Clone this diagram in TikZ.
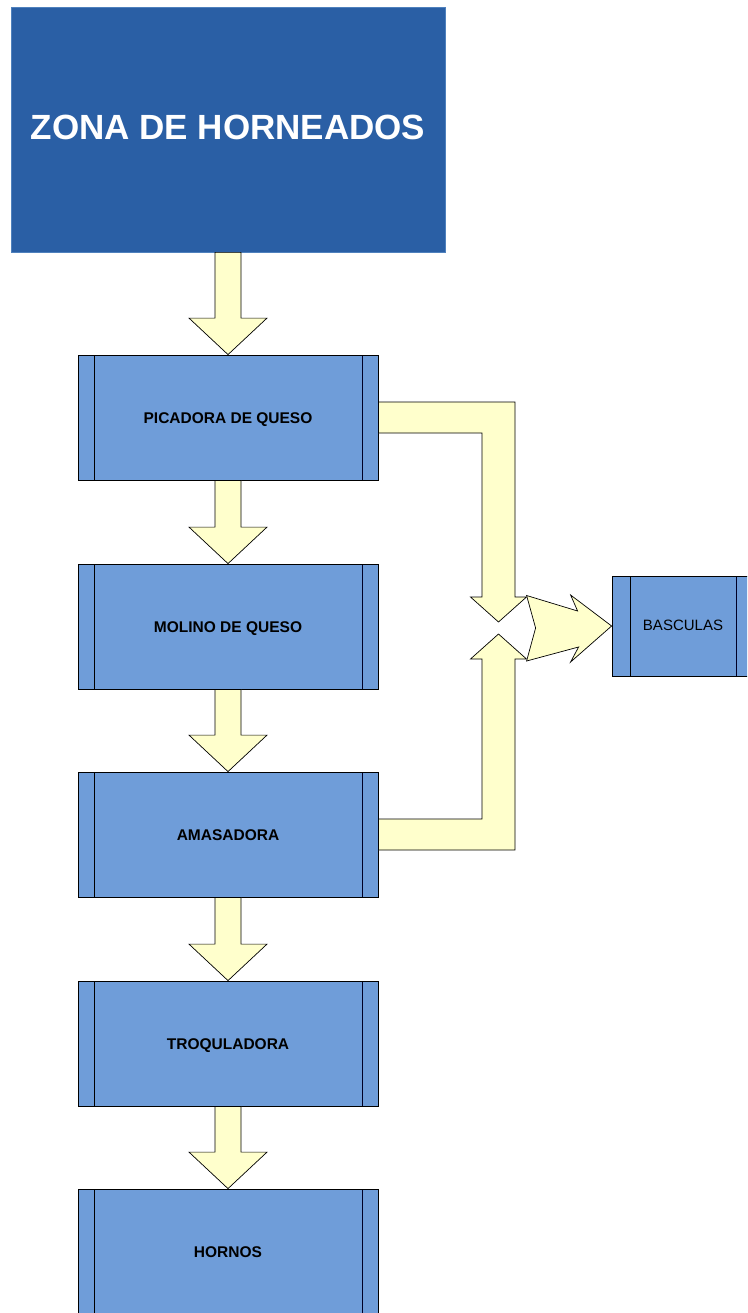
\documentclass[tikz,border=0pt]{standalone}
\usepackage{fontspec}
\setmainfont{Liberation Sans}
\usetikzlibrary{calc}
\definecolor{zonablue}{RGB}{42,95,165}
\definecolor{zonaedge}{RGB}{79,129,189}
\definecolor{procblue}{RGB}{111,157,217}
\definecolor{arrowyellow}{RGB}{255,255,204}
\tikzset{
  zonabox/.style={rectangle, fill=zonablue, draw=zonaedge, line width=0.8pt,
    minimum width=434pt, minimum height=245pt, inner sep=0pt, text=white,
    text height=21pt, text depth=0pt,
    font=\fontsize{35}{40}\selectfont\bfseries},
  sidelines/.style={path picture={
    \draw[black, line width=0.8pt]
      ([xshift=#1]path picture bounding box.north west) --
      ([xshift=#1]path picture bounding box.south west);
    \draw[black!85!blue, line width=0.8pt]
      ([xshift=-#1]path picture bounding box.north east) --
      ([xshift=-#1]path picture bounding box.south east);}},
  procbox/.style={rectangle, fill=procblue, draw=black, line width=0.8pt,
    minimum width=300pt, minimum height=125pt, inner sep=0pt,
    text height=11.1pt, text depth=0pt,
    font=\fontsize{15.5}{18}\selectfont\bfseries, sidelines=16pt},
  scalebox/.style={rectangle, fill=procblue, draw=black, line width=0.8pt,
    minimum width=142pt, minimum height=100pt, inner sep=0pt,
    text height=8.1pt, text depth=0pt,
    font=\fontsize{15}{18}\selectfont, sidelines=18pt},
  blockarrow/.style={fill=arrowyellow, draw=black, line width=0.7pt, line join=miter}
}
\newcommand{\blockdown}[2]{%
  \path[blockarrow] let \p1=(#1.south), \p2=(#2.north) in
    (\x2-13pt,\y1) -- (\x2+13pt,\y1) -- (\x2+13pt,\y2+36.5pt) --
    (\x2+39pt,\y2+36.5pt) -- (\x2,\y2) -- (\x2-39pt,\y2+36.5pt) --
    (\x2-13pt,\y2+36.5pt) -- cycle;}
\begin{document}
\begin{tikzpicture}[x=1pt, y=1pt]
  \clip (0,0) rectangle (747,-1313);
  \fill[white] (0,0) rectangle (747,-1313);

  \node[zonabox] (zona) at (228,-129.5) {ZONA DE HORNEADOS};
  \node[procbox] (pic) at (228,-417.5) {PICADORA DE QUESO};
  \node[procbox] (mol) at (228,-626.5) {MOLINO DE QUESO};
  \node[procbox] (amas) at (228,-834.5) {AMASADORA};
  \node[procbox] (troq) at (228,-1043.5) {TROQULADORA};
  \node[procbox] (horn) at (228,-1251.5) {HORNOS};
  \node[scalebox] (bas) at (683,-626) {BASCULAS};

  \coordinate (mergeTop) at (498.5,-622);
  \coordinate (mergeBot) at (498.5,-634);

  \blockdown{zona}{pic}
  \blockdown{pic}{mol}
  \blockdown{mol}{amas}
  \blockdown{amas}{troq}
  \blockdown{troq}{horn}

  % bent arrow from PICADORA down to the merge point
  \path[blockarrow] let \p1=(pic.east), \p2=(mergeTop) in
    (\x1,\y1+15.5pt) -- (\x2+16.5pt,\y1+15.5pt) -- (\x2+16.5pt,\y2+25pt) --
    (\x2+28pt,\y2+25pt) -- (\x2,\y2) -- (\x2-28pt,\y2+25pt) --
    (\x2-16.5pt,\y2+25pt) -- (\x2-16.5pt,\y1-15.5pt) -- (\x1,\y1-15.5pt) -- cycle;

  % bent arrow from AMASADORA up to the merge point
  \path[blockarrow] let \p1=(amas.east), \p2=(mergeBot) in
    (\x1,\y1-15.5pt) -- (\x2+16.5pt,\y1-15.5pt) -- (\x2+16.5pt,\y2-25pt) --
    (\x2+28pt,\y2-25pt) -- (\x2,\y2) -- (\x2-28pt,\y2-25pt) --
    (\x2-16.5pt,\y2-25pt) -- (\x2-16.5pt,\y1+15.5pt) -- (\x1,\y1+15.5pt) -- cycle;

  % notched arrow into BASCULAS
  \path[blockarrow] let \p1=(bas.west) in
    (\x1-85pt,\y1+30.5pt) -- (\x1-34pt,\y1+15pt) -- (\x1-41pt,\y1+31pt) --
    (\x1,\y1) -- (\x1-41pt,\y1-36pt) -- (\x1-33pt,\y1-21pt) --
    (\x1-85pt,\y1-35pt) -- (\x1-76pt,\y1-2pt) -- cycle;
\end{tikzpicture}
\end{document}
